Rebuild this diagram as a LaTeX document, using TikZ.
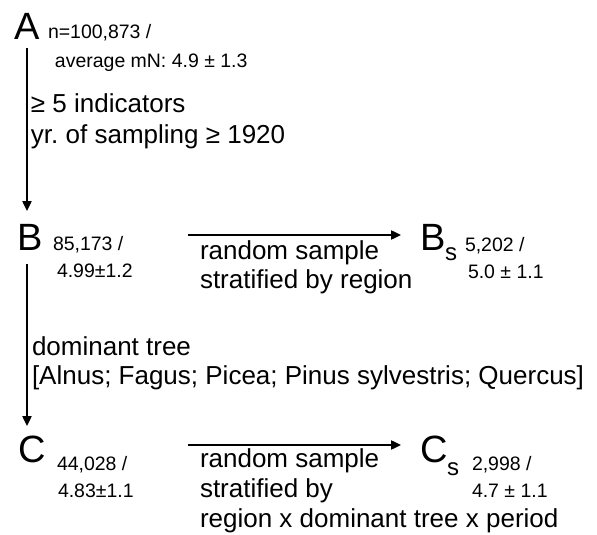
\documentclass[tikz,border=0pt]{standalone}
\usepackage{fontspec}
\setmainfont{Liberation Sans}
\usetikzlibrary{arrows.meta}
\frenchspacing
\begin{document}
\begin{tikzpicture}[x=0.75pt,y=-0.75pt,
  every node/.style={inner sep=0pt,outer sep=0pt,anchor=base west},
  big/.style={font=\fontsize{28.5}{32}\selectfont},
  mid/.style={font=\fontsize{19.5}{23}\selectfont},
  small/.style={font=\fontsize{14.6}{18}\selectfont},
  sub/.style={font=\fontsize{18}{20}\selectfont},
  flow/.style={line width=1pt,-{Triangle[length=7.5pt,width=7pt]}}]
\useasboundingbox (0,0) rectangle (597,535);
% A
\node[big] (A) at (15,40) {A};
\node[small] (An1) at (48,39) {n=100,873 /};
\node[small] (An2) at (55,68) {average mN: 4.9 ± 1.3};
\node[mid] (crit1) at (31,113) {≥ 5 indicators};
\node[mid] (crit2) at (31,143) {yr. of sampling ≥ 1920};
% B
\node[big] (B) at (17,250) {B};
\node[small] (Bn1) at (53,250) {85,173 /};
\node[small] (Bn2) at (57,277) {4.99±1.2};
\node[mid] (rs1) at (200,259) {random sample};
\node[mid] (rs2) at (200,288) {stratified by region};
\node[big] (Bs) at (420,250) {B};
\node[sub] (Bss) at (445,260) {s};
\node[small] (Bsn1) at (465,252) {5,202 /};
\node[small] (Bsn2) at (468,278) {5.0 ± 1.1};
\node[mid] (dom1) at (32,355) {dominant tree};
\node[mid] (dom2) at (32,384) {[Alnus; Fagus; Picea; Pinus sylvestris; Quercus]};
% C
\node[big] (C) at (18,462) {C};
\node[small] (Cn1) at (57,470) {44,028 /};
\node[small] (Cn2) at (58,497) {4.83±1.1};
\node[mid] (crs1) at (200,467) {random sample};
\node[mid] (crs2) at (200,497) {stratified by};
\node[mid] (crs3) at (200,527) {region x dominant tree x period};
\node[big] (Cs) at (420,462) {C};
\node[sub] (Css) at (447,475) {s};
\node[small] (Csn1) at (472,470) {2,998 /};
\node[small] (Csn2) at (472,497) {4.7 ± 1.1};
% connector ends
\coordinate (Aout) at (27,48);
\coordinate (Bin) at (27,211);
\coordinate (Bout) at (27,264);
\coordinate (Cin) at (27,426);
\coordinate (Bright) at (188,235);
\coordinate (Bsleft) at (401,235);
\coordinate (Cright) at (188,445);
\coordinate (Csleft) at (401,445);
\draw[flow] (Aout) -- (Bin);
\draw[flow] (Bout) -- (Cin);
\draw[flow] (Bright) -- (Bsleft);
\draw[flow] (Cright) -- (Csleft);
\end{tikzpicture}
\end{document}
